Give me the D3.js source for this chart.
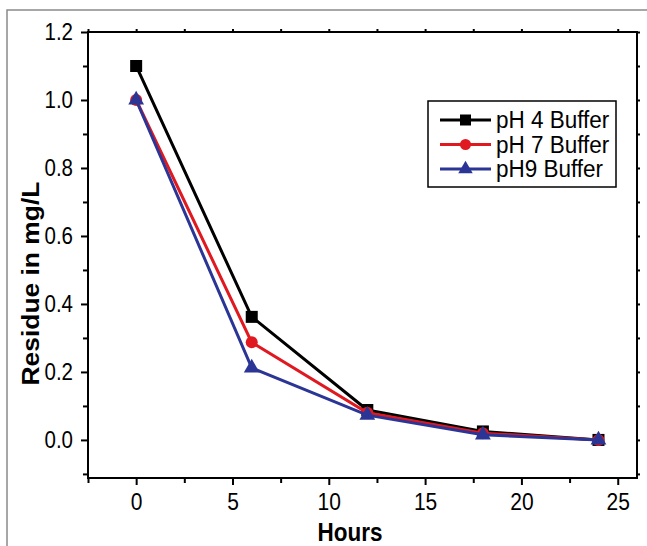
<!DOCTYPE html>
<html>
<head>
<meta charset="utf-8">
<script src="https://cdn.jsdelivr.net/npm/d3@7"></script>
<style>
  body { margin: 0; background: #fff; }
  svg { display: block; font-family: "Liberation Sans", Arial, sans-serif; }
</style>
</head>
<body>
<div id="chart"></div>
<script>
// data
const hours = [0, 6, 12, 18, 24];
const ph4 = [1.10, 0.362, 0.088, 0.025, 0.0];
const ph7 = [1.00, 0.287, 0.080, 0.020, 0.0];
const ph9 = [1.00, 0.212, 0.073, 0.015, 0.0];
const seriesNames = ["pH 4 Buffer", "pH 7 Buffer", "pH9 Buffer"];
const xTicks = [0, 5, 10, 15, 20, 25];
const yTicks = [0.0, 0.2, 0.4, 0.6, 0.8, 1.0, 1.2];

const width = 647, height = 546;
const m = { left: 88, right: 10, top: 32, bottom: 68 };
const stretch = 1.15; // the figure's text looks a bit tall

const svg = d3.select('#chart').append('svg')
  .attr('width', width)
  .attr('height', height);

// grey frame around the figure
svg.append('path')
  .attr('d', `M7,${height} L7,10 L${width},10`)
  .attr('fill', 'none')
  .attr('stroke', '#8a8a8a')
  .attr('stroke-width', 1.5);

const x = d3.scaleLinear().domain([-2.5, 26]).range([m.left, width - m.right]);
const y = d3.scaleLinear().domain([-0.112, 1.2]).range([height - m.bottom, m.top]);

const g = svg.append('g');

// plot box
g.append('rect')
  .attr('x', x(-2.5)).attr('y', y(1.2))
  .attr('width', x(26) - x(-2.5)).attr('height', y(-0.112) - y(1.2))
  .attr('fill', 'none').attr('stroke', '#000').attr('stroke-width', 2);

// minor ticks
const xMinor = d3.range(-2.5, 26, 2.5).filter(v => !xTicks.includes(v));
const yMinor = d3.range(-0.1, 1.2, 0.2).map(v => +v.toFixed(1));

const bottom = g.append('g')
  .attr('transform', `translate(0,${y(-0.112)})`)
  .call(d3.axisBottom(x).tickValues(xTicks).tickSize(7).tickFormat(d3.format('d')));
g.append('g')
  .attr('transform', `translate(0,${y(-0.112)})`)
  .call(d3.axisBottom(x).tickValues(xMinor).tickSize(5).tickFormat(''));

const left = g.append('g')
  .attr('transform', `translate(${x(-2.5)},0)`)
  .call(d3.axisLeft(y).tickValues(yTicks).tickSize(7).tickPadding(8).tickFormat(d3.format('.1f')));
g.append('g')
  .attr('transform', `translate(${x(-2.5)},0)`)
  .call(d3.axisLeft(y).tickValues(yMinor).tickSize(5).tickFormat(''));

// small ticks on top and right
g.append('g')
  .attr('transform', `translate(0,${y(1.2)})`)
  .call(d3.axisTop(x).tickValues(xTicks.concat(xMinor)).tickSize(3).tickFormat(''));
g.append('g')
  .attr('transform', `translate(${x(26)},0)`)
  .call(d3.axisRight(y).tickValues(yTicks.concat(yMinor)).tickSize(3).tickFormat(''));

g.selectAll('.domain').remove();
g.selectAll('.tick line').attr('stroke', '#000').attr('stroke-width', 2);
bottom.selectAll('text')
  .attr('font-size', 21).attr('fill', '#000')
  .attr('dy', null)
  .attr('y', 32 / stretch)
  .attr('transform', `scale(1,${stretch})`)
  .style('font-family', '"Liberation Sans", Arial, sans-serif');
left.selectAll('text')
  .attr('font-size', 20.5).attr('fill', '#000')
  .attr('transform', `scale(1,${stretch})`)
  .style('font-family', '"Liberation Sans", Arial, sans-serif');

// axis titles
svg.append('text')
  .attr('transform', `translate(350,541) scale(1,${stretch})`)
  .attr('text-anchor', 'middle')
  .attr('font-size', 22.5).attr('font-weight', 'bold')
  .text('Hours');
svg.append('text')
  .attr('transform', `translate(39,${y(0.46)}) scale(1,1.1) rotate(-90)`)
  .attr('text-anchor', 'middle')
  .attr('font-size', 24).attr('font-weight', 'bold')
  .text('Residue in mg/L');

const colors = ['#000000', '#e0181f', '#2b3596'];
const series = [ph4, ph7, ph9];
const line = d3.line().x((d, i) => x(hours[i])).y(d => y(d));

function marker(sel, k, size) {
  if (k === 0) {
    sel.append('rect').attr('x', -size / 2).attr('y', -size / 2)
      .attr('width', size).attr('height', size).attr('fill', colors[k]);
  } else if (k === 1) {
    sel.append('circle').attr('r', size / 2).attr('fill', colors[k]);
  } else {
    sel.append('path').attr('d', d3.symbol(d3.symbolTriangle, size * size * 0.75)())
      .attr('fill', colors[k]);
  }
}

series.forEach((vals, k) => {
  g.append('path')
    .datum(vals)
    .attr('d', line)
    .attr('fill', 'none')
    .attr('stroke', colors[k])
    .attr('stroke-width', 3);
  vals.forEach((v, i) => {
    const s = g.append('g').attr('transform', `translate(${x(hours[i])},${y(v)})`);
    marker(s, k, 12);
  });
});

// legend
const leg = svg.append('g');
leg.append('rect')
  .attr('x', 428).attr('y', 101).attr('width', 188).attr('height', 86)
  .attr('fill', '#fff').attr('stroke', '#000').attr('stroke-width', 1.5);
seriesNames.forEach((name, k) => {
  const ly = 120 + k * 24.5;
  leg.append('line')
    .attr('x1', 440).attr('x2', 491).attr('y1', ly).attr('y2', ly)
    .attr('stroke', colors[k]).attr('stroke-width', 3);
  const s = leg.append('g').attr('transform', `translate(465.5,${ly})`);
  marker(s, k, 11);
  leg.append('text')
    .attr('transform', `translate(496,${ly + 8}) scale(1,1.1)`)
    .attr('font-size', 22.5)
    .text(name);
});
</script>
</body>
</html>
